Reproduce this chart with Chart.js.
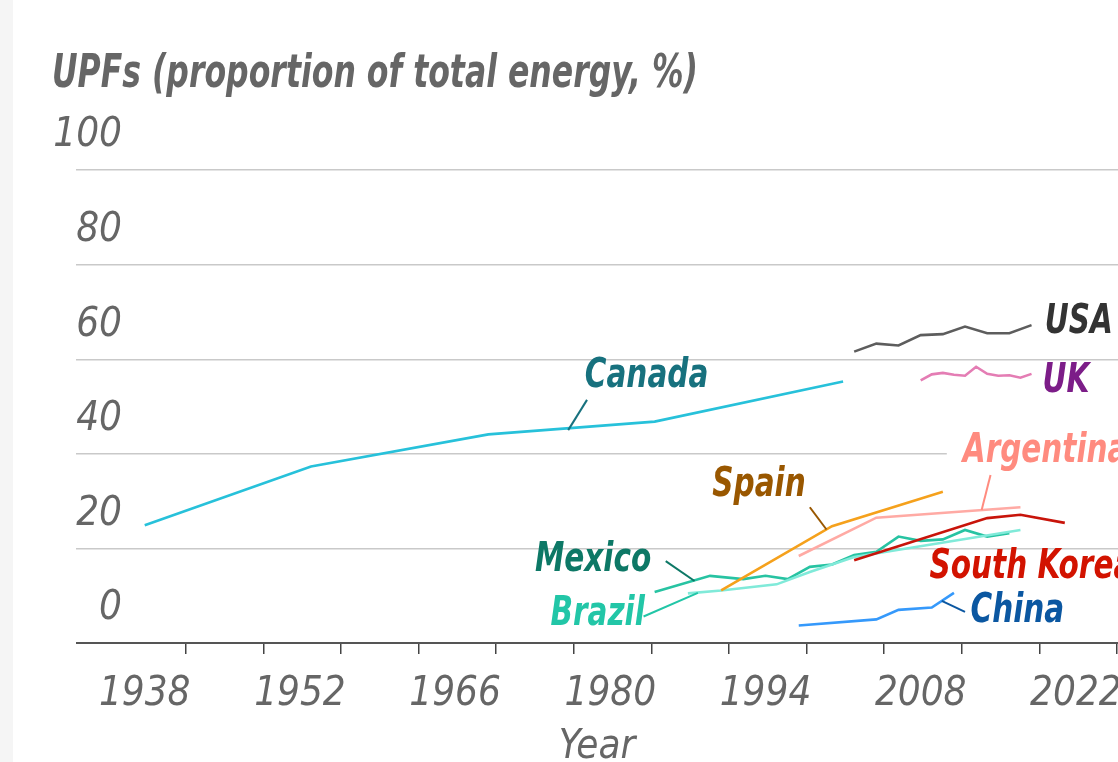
<!DOCTYPE html>
<html>
<head>
<meta charset="utf-8">
<script src="https://cdn.jsdelivr.net/npm/chart.js@4.4.1/dist/chart.umd.min.js"></script>
<style>
  html, body { margin: 0; padding: 0; background: #f5f5f5; }
  #wrap { position: absolute; left: 13px; top: 0; width: 1105px; height: 762px; background: #fff; }
</style>
</head>
<body>
<div id="wrap"><canvas id="chart" width="1105" height="762"></canvas></div>
<script>
/* ── UPF share of total energy, by country ── */

const FONT = "'Liberation Sans Narrow', 'DejaVu Sans Condensed', Roboto, sans-serif";

// axis
const tickLabelYears = [1938, 1952, 1966, 1980, 1994, 2008, 2022];
const yTicks = [0, 20, 40, 60, 80, 100];

// series
const canadaYears = [1938, 1953, 1969, 1984, 2001];
const canadaVals  = [24.9, 37.3, 44.1, 46.8, 55.3];

const usaYears = [2002, 2004, 2006, 2008, 2010, 2012, 2014, 2016, 2018];
const usaVals  = [61.6, 63.3, 62.9, 65.1, 65.3, 66.9, 65.5, 65.5, 67.2];

const ukYears = [2008, 2009, 2010, 2011, 2012, 2013, 2014, 2015, 2016, 2017, 2018];
const ukVals  = [55.5, 56.8, 57.1, 56.7, 56.5, 58.4, 56.9, 56.5, 56.6, 56.1, 56.9];

const argentinaYears = [1997, 2004, 2017];
const argentinaVals  = [18.4, 26.5, 28.7];

const spainYears = [1990, 2000, 2010];
const spainVals  = [11.1, 24.7, 32.0];

const koreaYears = [2002, 2014, 2017, 2021];
const koreaVals  = [17.5, 26.4, 27.1, 25.4];

const mexicoYears = [1984, 1989, 1992, 1994, 1996, 1998, 2000, 2002, 2004, 2006, 2008, 2010, 2012, 2014, 2016];
const mexicoVals  = [10.8, 14.2, 13.5, 14.2, 13.5, 16.1, 16.6, 18.6, 19.3, 22.5, 21.6, 21.9, 23.9, 22.5, 23.2];

const brazilYears = [1987, 1990, 1995, 1998, 2002, 2017];
const brazilVals  = [10.5, 11.1, 12.4, 15.0, 18.2, 23.9];

const chinaYears = [1997, 2004, 2006, 2009, 2011];
const chinaVals  = [3.7, 5.0, 7.0, 7.5, 10.6];

const pts = (xs, ys) => xs.map((x, i) => ({ x, y: ys[i] }));

const SERIES = [
  { name: 'Canada',      data: pts(canadaYears, canadaVals),       color: '#27c1da' },
  { name: 'USA',         data: pts(usaYears, usaVals),             color: '#5d5d5d' },
  { name: 'UK',          data: pts(ukYears, ukVals),               color: '#e47db4' },
  { name: 'Argentina',   data: pts(argentinaYears, argentinaVals), color: '#ffaaa4' },
  { name: 'Spain',       data: pts(spainYears, spainVals),         color: '#f5a11c' },
  { name: 'South Korea', data: pts(koreaYears, koreaVals),         color: '#c8140a' },
  { name: 'Brazil',      data: pts(brazilYears, brazilVals),       color: '#80ead9' },
  { name: 'Mexico',      data: pts(mexicoYears, mexicoVals),       color: '#27c3a2' },
  { name: 'China',       data: pts(chinaYears, chinaVals),         color: '#3599fb' }
];

// direct labels (position in data units) + optional leader line
const LABELS = [
  { text: 'USA',         x: 2019.2, y: 67.7, color: '#333333' },
  { text: 'UK',          x: 2019.0, y: 55.2, color: '#7c1d88' },
  { text: 'Canada',      x: 1977.7, y: 56.4, color: '#17717e', lead: [1976.2, 45.0, 1977.9, 51.4] },
  { text: 'Argentina',   x: 2011.8, y: 40.4, color: '#ff8b7f', lead: [2013.5, 28.1, 2014.3, 35.5], bg: true },
  { text: 'Spain',       x: 1989.2, y: 33.2, color: '#995700', lead: [1998.0, 28.7, 1999.5, 24.0] },
  { text: 'Mexico',      x: 1973.2, y: 17.5, color: '#0d7866', lead: [1985.0, 17.3, 1987.6, 13.1] },
  { text: 'Brazil',      x: 1974.6, y: 5.9,  color: '#22c6a7', lead: [1983.0, 5.6, 1987.9, 10.6] },
  { text: 'South Korea', x: 2008.8, y: 15.9, color: '#d21300' },
  { text: 'China',       x: 2012.5, y: 6.6,  color: '#0b57a1', lead: [2009.9, 8.9, 2012.0, 6.6] }
];

const X_MIN = 1931.8, X_MAX = 2025.8;
const TITLE = 'UPFs (proportion of total energy, %)';

function measure(font, txt) {
  const c = document.createElement('canvas').getContext('2d');
  c.font = font;
  return c.measureText(txt).width;
}

const AX_FONT_SIZE = 40;
const yWidest = measure(`italic ${AX_FONT_SIZE}px ${FONT}`, '100');

// narrow the text horizontally (no condensed italic font installed)
function squeezedText(ctx, txt, px, py, k) {
  ctx.save();
  ctx.translate(px, py);
  ctx.scale(k, 1);
  ctx.fillText(txt, 0, 0);
  ctx.restore();
}

const noPad = s => { s.paddingLeft = 0; s.paddingRight = 0; };

const labelPlugin = {
  id: 'countryLabels',
  afterDatasetsDraw(chart) {
    const { ctx, scales: { x, y } } = chart;
    ctx.save();
    ctx.textBaseline = 'middle';
    ctx.textAlign = 'left';

    ctx.font = `italic bold 46px ${FONT}`;
    ctx.fillStyle = '#666';
    squeezedText(ctx, TITLE, 39, 75, 646 / ctx.measureText(TITLE).width);

    const k = 0.82;
    ctx.font = `italic bold 40px ${FONT}`;
    LABELS.forEach(l => {
      const px = x.getPixelForValue(l.x), py = y.getPixelForValue(l.y);
      if (l.bg) {
        const w = ctx.measureText(l.text).width * k;
        ctx.fillStyle = '#fff';
        ctx.fillRect(px - 16, py - 22, w + 20, 44);
      }
      if (l.lead) {
        ctx.strokeStyle = l.color;
        ctx.lineWidth = 2;
        ctx.beginPath();
        ctx.moveTo(x.getPixelForValue(l.lead[0]), y.getPixelForValue(l.lead[1]));
        ctx.lineTo(x.getPixelForValue(l.lead[2]), y.getPixelForValue(l.lead[3]));
        ctx.stroke();
      }
      ctx.fillStyle = l.color;
      squeezedText(ctx, l.text, px, py, k);
    });
    ctx.restore();
  }
};

new Chart(document.getElementById('chart'), {
  type: 'line',
  data: {
    datasets: SERIES.map(s => ({
      label: s.name,
      data: s.data,
      borderColor: s.color,
      borderWidth: 2.6,
      pointRadius: 0,
      tension: 0,
      clip: false
    }))
  },
  options: {
    responsive: false,
    animation: false,
    layout: { padding: { left: 63, right: 0, top: 170, bottom: 0 } },
    plugins: { legend: { display: false }, tooltip: { enabled: false } },
    scales: {
      xt: {
        type: 'linear', position: 'bottom', weight: 0,
        min: X_MIN, max: X_MAX,
        afterBuildTicks: s => {
          const t = [];
          for (let v = 1941.7; v <= X_MAX; v += 7) t.push({ value: v });
          s.ticks = t;
        },
        afterFit: s => { s.height = 0; noPad(s); },
        ticks: { display: false },
        grid: { drawOnChartArea: false, drawTicks: true, tickLength: 11, color: '#444', lineWidth: 1.5 },
        border: { display: false }
      },
      x: {
        type: 'linear', position: 'bottom', weight: 1,
        min: X_MIN, max: X_MAX,
        afterBuildTicks: s => { s.ticks = tickLabelYears.map(v => ({ value: v })); },
        afterFit: s => { s.height = 119; noPad(s); },
        ticks: {
          autoSkip: false, maxRotation: 0, padding: 20,
          color: '#666',
          font: { family: FONT, size: AX_FONT_SIZE, style: 'italic' },
          callback: v => String(v)
        },
        grid: { display: false },
        border: { display: false },
        title: {
          display: true, text: 'Year', color: '#666',
          font: { family: FONT, size: AX_FONT_SIZE, style: 'italic', lineHeight: 1 },
          padding: { top: 0, bottom: -6 }
        }
      },
      y: {
        type: 'linear', position: 'left',
        min: 0, max: 100,
        afterBuildTicks: s => { s.ticks = yTicks.map(v => ({ value: v })); },
        afterFit: s => { s.width = 0; },
        ticks: {
          mirror: true, crossAlign: 'far',
          padding: 46 - yWidest,
          labelOffset: -34,
          color: '#666',
          font: { family: FONT, size: AX_FONT_SIZE, style: 'italic' }
        },
        grid: {
          drawTicks: false,
          color: c => c.tick && c.tick.value === 0 ? '#555' : '#c9c9c9',
          lineWidth: c => c.tick && c.tick.value === 0 ? 2 : 1.4
        },
        border: { display: false }
      }
    }
  },
  plugins: [labelPlugin]
});
</script>
</body>
</html>
